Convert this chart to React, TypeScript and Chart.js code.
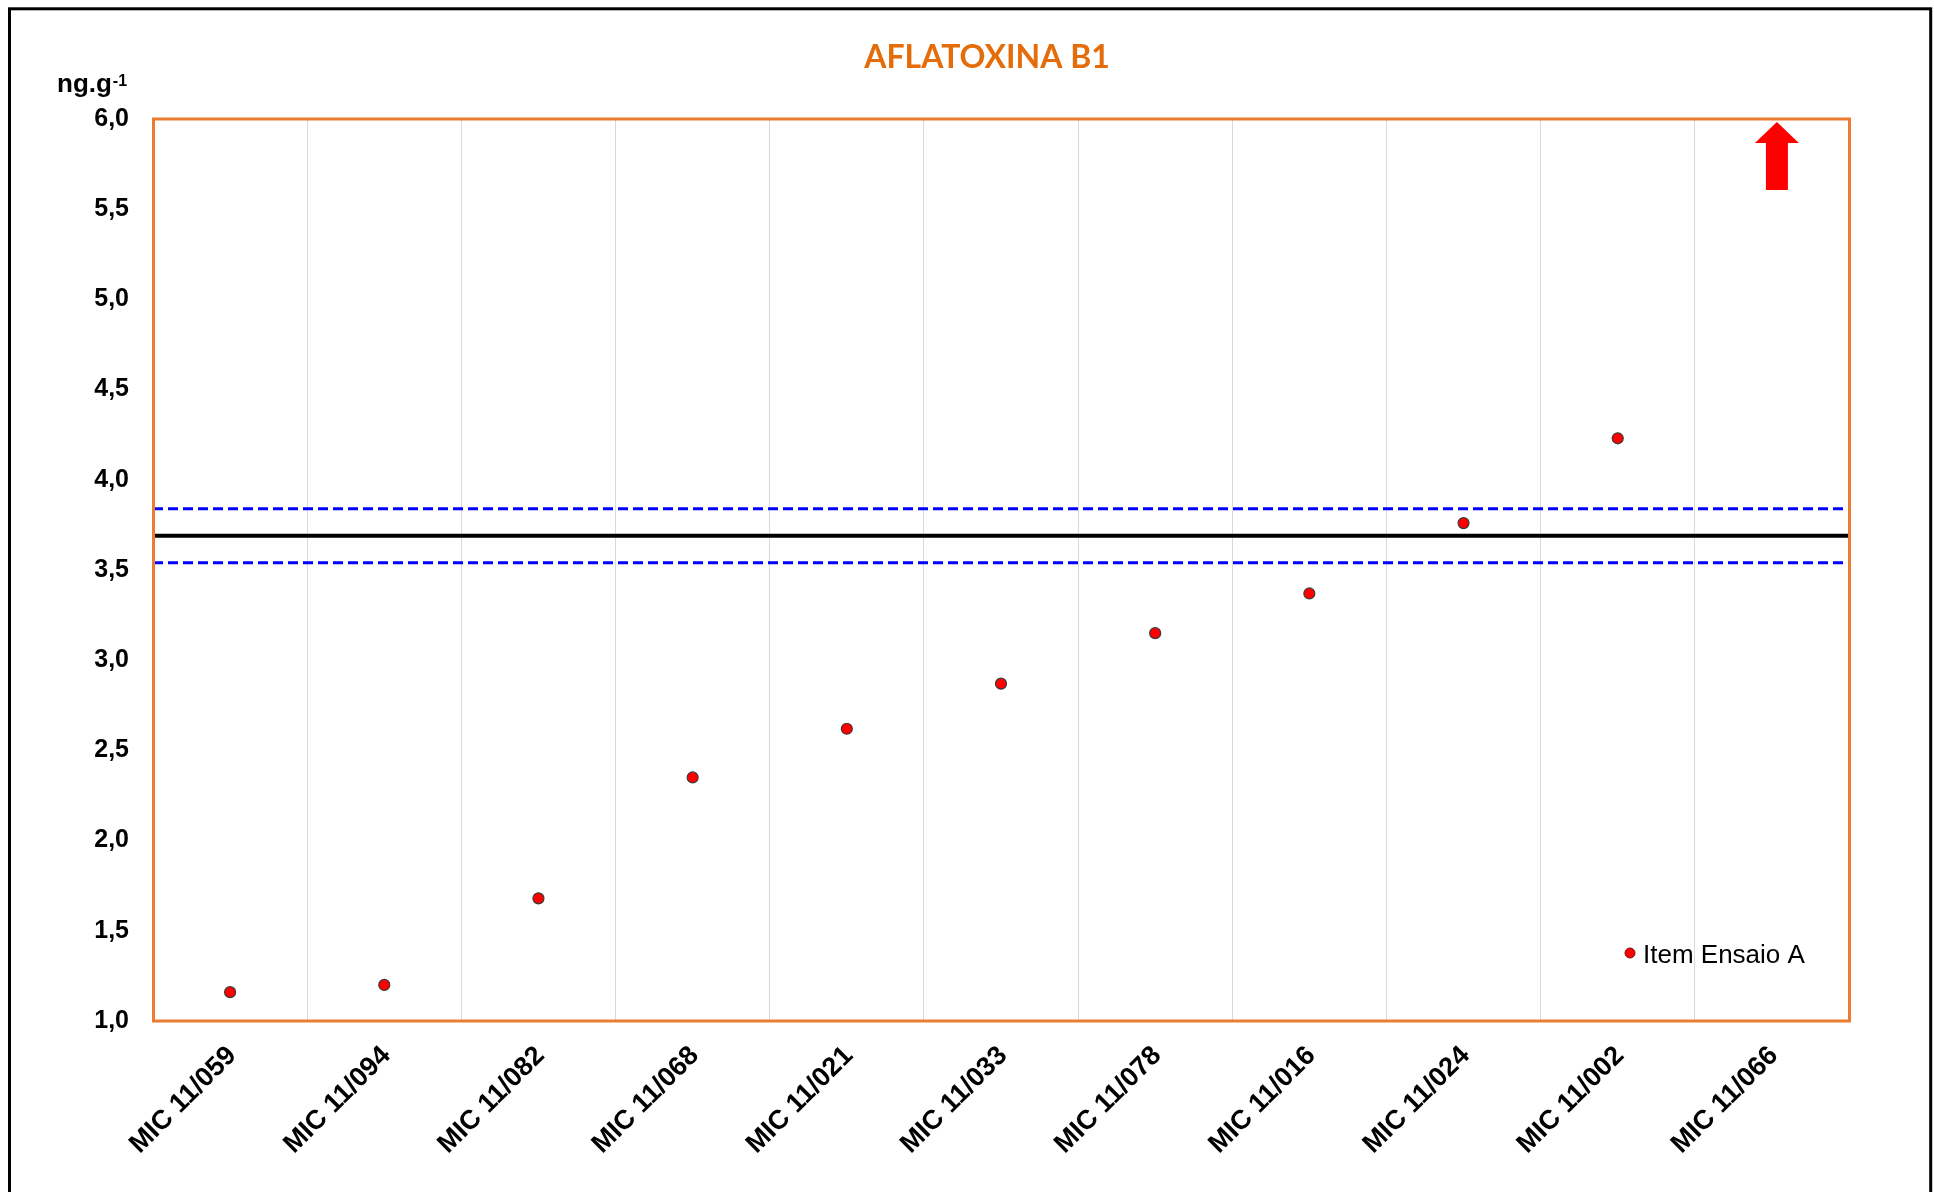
import React, { useEffect, useRef } from "react";
import { Chart, registerables } from "chart.js";

Chart.register(...registerables);

const TITLE = "AFLATOXINA B1";
const UNIT = "ng.g";
const UNIT_SUP = "-1";
const SERIES_LABEL = "Item Ensaio A";

const categories = [
  "MIC 11/059",
  "MIC 11/094",
  "MIC 11/082",
  "MIC 11/068",
  "MIC 11/021",
  "MIC 11/033",
  "MIC 11/078",
  "MIC 11/016",
  "MIC 11/024",
  "MIC 11/002",
  "MIC 11/066",
];
const itemEnsaioA: (number | null)[] = [1.16, 1.2, 1.68, 2.35, 2.62, 2.87, 3.15, 3.37, 3.76, 4.23, null];
const aboveScale = [false, false, false, false, false, false, false, false, false, false, true];
const assignedValue = 3.69;
const upperLimit = 3.84;
const lowerLimit = 3.54;
const yMin = 1.0;
const yMax = 6.0;
const yStep = 0.5;

const FONT = "'Liberation Sans', Arial, sans-serif";
const ORANGE = "#EC7C30";
const TITLE_ORANGE = "#E46C0A";

const decorPlugin = {
  id: "decor",
  beforeDraw(chart: any) {
    const ctx = chart.ctx;
    ctx.save();
    ctx.fillStyle = "#ffffff";
    ctx.fillRect(0, 0, chart.width, chart.height);
    ctx.strokeStyle = "#000000";
    ctx.lineWidth = 3;
    ctx.strokeRect(9.5, 8.8, 1921.2, 1400);
    ctx.restore();
  },
  afterDatasetsDraw(chart: any) {
    const ctx = chart.ctx;
    const a = chart.chartArea;
    const xs = chart.scales.x;
    ctx.save();
    // plot border
    ctx.strokeStyle = ORANGE;
    ctx.lineWidth = 3;
    ctx.strokeRect(a.left + 0.5, a.top, a.right - a.left, a.bottom - a.top);

    // arrows for off-scale values
    ctx.fillStyle = "#FF0000";
    aboveScale.forEach((flag, i) => {
      if (!flag) return;
      const cx = xs.getPixelForValue(i) + 5;
      const t = a.top + 3;
      ctx.beginPath();
      ctx.moveTo(cx, t);
      ctx.lineTo(cx + 22, t + 21);
      ctx.lineTo(cx + 11, t + 21);
      ctx.lineTo(cx + 11, t + 68);
      ctx.lineTo(cx - 11, t + 68);
      ctx.lineTo(cx - 11, t + 21);
      ctx.lineTo(cx - 22, t + 21);
      ctx.closePath();
      ctx.fill();
    });

    // title
    ctx.fillStyle = TITLE_ORANGE;
    ctx.font = "bold 32px Lato, 'Open Sans', sans-serif";
    ctx.textAlign = "center";
    ctx.textBaseline = "alphabetic";
    ctx.fillText(TITLE, 987, 68);

    // unit label
    ctx.fillStyle = "#000000";
    ctx.textAlign = "left";
    ctx.font = `bold 26px ${FONT}`;
    ctx.fillText(UNIT, 57, 92);
    const w = ctx.measureText(UNIT).width;
    ctx.font = `bold 16px ${FONT}`;
    ctx.fillText(UNIT_SUP, 57 + w + 1, 86);

    // legend
    ctx.beginPath();
    ctx.arc(1630, 953, 5, 0, Math.PI * 2);
    ctx.fillStyle = "#FF0000";
    ctx.fill();
    ctx.lineWidth = 1;
    ctx.strokeStyle = "#7a1010";
    ctx.stroke();
    ctx.fillStyle = "#000000";
    ctx.font = `26px ${FONT}`;
    ctx.fillText(SERIES_LABEL, 1643, 963);
    ctx.restore();
  },
};

export default function App() {
  const ref = useRef<HTMLCanvasElement | null>(null);
  useEffect(() => {
    if (!ref.current) return;
    const chart = new Chart(ref.current, {
      type: "line",
      data: {
        labels: categories,
        datasets: [
          {
            label: SERIES_LABEL,
            data: itemEnsaioA,
            xAxisID: "x",
            yAxisID: "y",
            showLine: false,
            pointRadius: 5.5,
            pointHoverRadius: 5.5,
            pointBackgroundColor: "#FF0000",
            pointBorderColor: "#3a3a3a",
            pointBorderWidth: 1.2,
            order: 0,
          },
          {
            label: "assigned",
            data: [
              { x: 0, y: assignedValue },
              { x: 1, y: assignedValue },
            ],
            xAxisID: "x2",
            yAxisID: "y",
            borderColor: "#000000",
            borderWidth: 4,
            pointRadius: 0,
            order: 1,
          },
          {
            label: "upper",
            data: [
              { x: 0, y: upperLimit },
              { x: 1, y: upperLimit },
            ],
            xAxisID: "x2",
            yAxisID: "y",
            borderColor: "#0000FF",
            borderWidth: 3,
            borderDash: [10, 5],
            pointRadius: 0,
            order: 2,
          },
          {
            label: "lower",
            data: [
              { x: 0, y: lowerLimit },
              { x: 1, y: lowerLimit },
            ],
            xAxisID: "x2",
            yAxisID: "y",
            borderColor: "#0000FF",
            borderWidth: 3,
            borderDash: [10, 5],
            pointRadius: 0,
            order: 3,
          },
        ] as any,
      },
      options: {
        responsive: false,
        animation: false,
        devicePixelRatio: 1,
        layout: { padding: { left: 0, right: 85, top: 119, bottom: 0 } },
        plugins: {
          legend: { display: false },
          title: { display: false },
          tooltip: { enabled: false },
        },
        scales: {
          x: {
            type: "category",
            position: "bottom",
            offset: true,
            afterFit: (s: any) => {
              s.height = 171;
            },
            grid: { display: true, offset: true, color: "#D9D9D9", lineWidth: 1, drawTicks: false },
            border: { display: false },
            ticks: {
              autoSkip: false,
              minRotation: 45,
              maxRotation: 45,
              padding: 19,
              labelOffset: 2,
              color: "#000000",
              font: { family: FONT, size: 27, weight: "bold" },
            },
          },
          x2: {
            type: "linear",
            display: false,
            min: 0,
            max: 1,
          },
          y: {
            type: "linear",
            min: yMin,
            max: yMax,
            afterFit: (s: any) => {
              s.width = 153;
            },
            grid: { display: false, drawTicks: false },
            border: { display: false },
            ticks: {
              stepSize: yStep,
              padding: 24,
              color: "#000000",
              font: { family: FONT, size: 25, weight: "bold" },
              callback: (v: any) => Number(v).toFixed(1).replace(".", ","),
            },
          },
        } as any,
      },
      plugins: [decorPlugin],
    });
    return () => chart.destroy();
  }, []);
  return (
    <div style={{ position: "absolute", left: 0, top: 0, width: 1934, height: 1192, overflow: "hidden" }}>
      <canvas ref={ref} width={1934} height={1192} style={{ display: "block" }} />
    </div>
  );
}
